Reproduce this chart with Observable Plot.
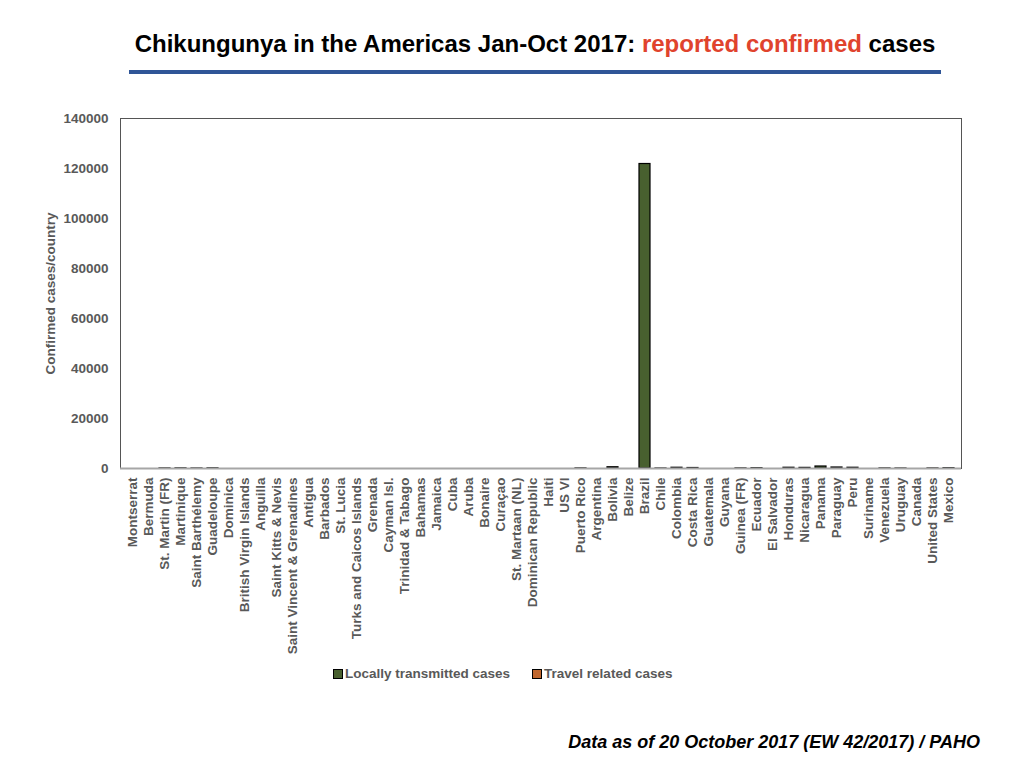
<!DOCTYPE html>
<html>
<head>
<meta charset="utf-8">
<script src="https://cdn.jsdelivr.net/npm/d3@7"></script>
<script src="https://cdn.jsdelivr.net/npm/@observablehq/plot@0.6"></script>
<style>
  html, body { margin: 0; padding: 0; background: #fff; }
  #page { position: relative; width: 1024px; height: 768px; overflow: hidden; font-family: "Liberation Sans", Arial, Helvetica, sans-serif; }
  #title { position: absolute; left: 0; width: 1070px; top: 30px; text-align: center; font-size: 24px; font-weight: bold; color: #000; }
  #title .red { color: #e0432d; }
  #rule { position: absolute; left: 129px; width: 812px; top: 70px; height: 4px; background: #2f5597; }
  #chart { position: absolute; left: 0; top: 0; }
  #legend { position: absolute; top: 666px; left: 333px; font-size: 13.5px; font-weight: bold; color: #595959; display: flex; gap: 22px; }
  #legend .item { display: flex; align-items: center; }
  #legend .sw { width: 8px; height: 8px; border: 1px solid #000; margin-right: 2px; }
  #footer { position: absolute; right: 44px; top: 732px; font-size: 18px; font-weight: bold; font-style: italic; color: #000; }
</style>
</head>
<body>
<div id="page">
  <div id="title">Chikungunya in the Americas Jan-Oct 2017: <span class="red">reported confirmed</span> cases</div>
  <div id="rule"></div>
  <div id="chart"></div>
  <div id="legend"></div>
  <div id="footer">Data as of 20 October 2017 (EW 42/2017) / PAHO</div>
</div>
<script>
const countries = ["Montserrat","Bermuda","St. Martin (FR)","Martinique","Saint Barthélemy","Guadeloupe","Dominica","British Virgin Islands","Anguilla","Saint Kitts & Nevis","Saint Vincent & Grenadines","Antigua","Barbados","St. Lucia","Turks and Caicos Islands","Grenada","Cayman Isl.","Trinidad & Tabago","Bahamas","Jamaica","Cuba","Aruba","Bonaire","Curaçao","St. Martaan (NL)","Dominican Republic","Haiti","US VI","Puerto Rico","Argentina","Bolivia","Belize","Brazil","Chile","Colombia","Costa Rica","Guatemala","Guyana","Guinea (FR)","Ecuador","El Salvador","Honduras","Nicaragua","Panama","Paraguay","Peru","Suriname","Venezuela","Uruguay","Canada","United States","Mexico"];

const localCases = [0,0,30,60,10,70,0,0,0,0,0,0,0,0,0,0,0,0,0,0,0,0,0,0,0,0,0,0,40,0,500,0,121800,0,300,200,0,0,40,120,0,300,250,800,400,300,0,30,0,0,0,120];
const travelCases = [0,0,0,0,0,0,0,0,0,0,0,0,0,0,0,0,0,0,0,0,0,0,0,0,0,0,0,0,0,0,0,0,0,10,0,0,0,0,0,0,0,0,0,0,0,0,0,0,5,0,30,0];

const seriesNames = ["Locally transmitted cases","Travel related cases"];
const seriesColors = ["#48602f","#c0672e"];
const yTicks = [0,20000,40000,60000,80000,100000,120000,140000];

const data = [];
countries.forEach((c, i) => {
  if (localCases[i] > 0) data.push({country: c, type: seriesNames[0], value: localCases[i]});
  if (travelCases[i] > 0) data.push({country: c, type: seriesNames[1], value: travelCases[i]});
});

const chart = Plot.plot({
  width: 1024,
  height: 700,
  marginTop: 118,
  marginBottom: 232,
  marginLeft: 120,
  marginRight: 63,
  style: { fontFamily: "'Liberation Sans', Arial, Helvetica, sans-serif", fontSize: "13.5px", fontWeight: "bold", color: "#595959", background: "transparent" },
  x: { type: "band", domain: countries, paddingInner: 0.3, paddingOuter: 0.15, label: null },
  y: { domain: [0, 140000], label: null },
  color: { domain: seriesNames, range: seriesColors },
  marks: [
    Plot.frame({ stroke: "#555", strokeWidth: 1 }),
    Plot.barY(data, { x: "country", y: "value", fill: "type", stroke: "#000", strokeWidth: 1.2, order: seriesNames }),
    Plot.ruleY([0], { stroke: "#a6a6a6", strokeWidth: 2 }),
    Plot.axisY({ ticks: yTicks, tickFormat: d3.format("d"), tickSize: 0, tickPadding: 12, label: null }),
    Plot.text(["Confirmed cases/country"], { frameAnchor: "left", dx: -70, rotate: -90, textAnchor: "middle", text: d => d, fill: "#595959", fontWeight: "bold", fontSize: 13.5 }),
    Plot.axisX({ tickRotate: -90, tickSize: 0, tickPadding: 9, label: null })
  ]
});
document.getElementById("chart").appendChild(chart);

const legend = document.getElementById("legend");
seriesNames.forEach((n, i) => {
  const item = document.createElement("div");
  item.className = "item";
  const sw = document.createElement("span");
  sw.className = "sw";
  sw.style.background = seriesColors[i];
  item.appendChild(sw);
  item.appendChild(document.createTextNode(n));
  legend.appendChild(item);
});
</script>
</body>
</html>
